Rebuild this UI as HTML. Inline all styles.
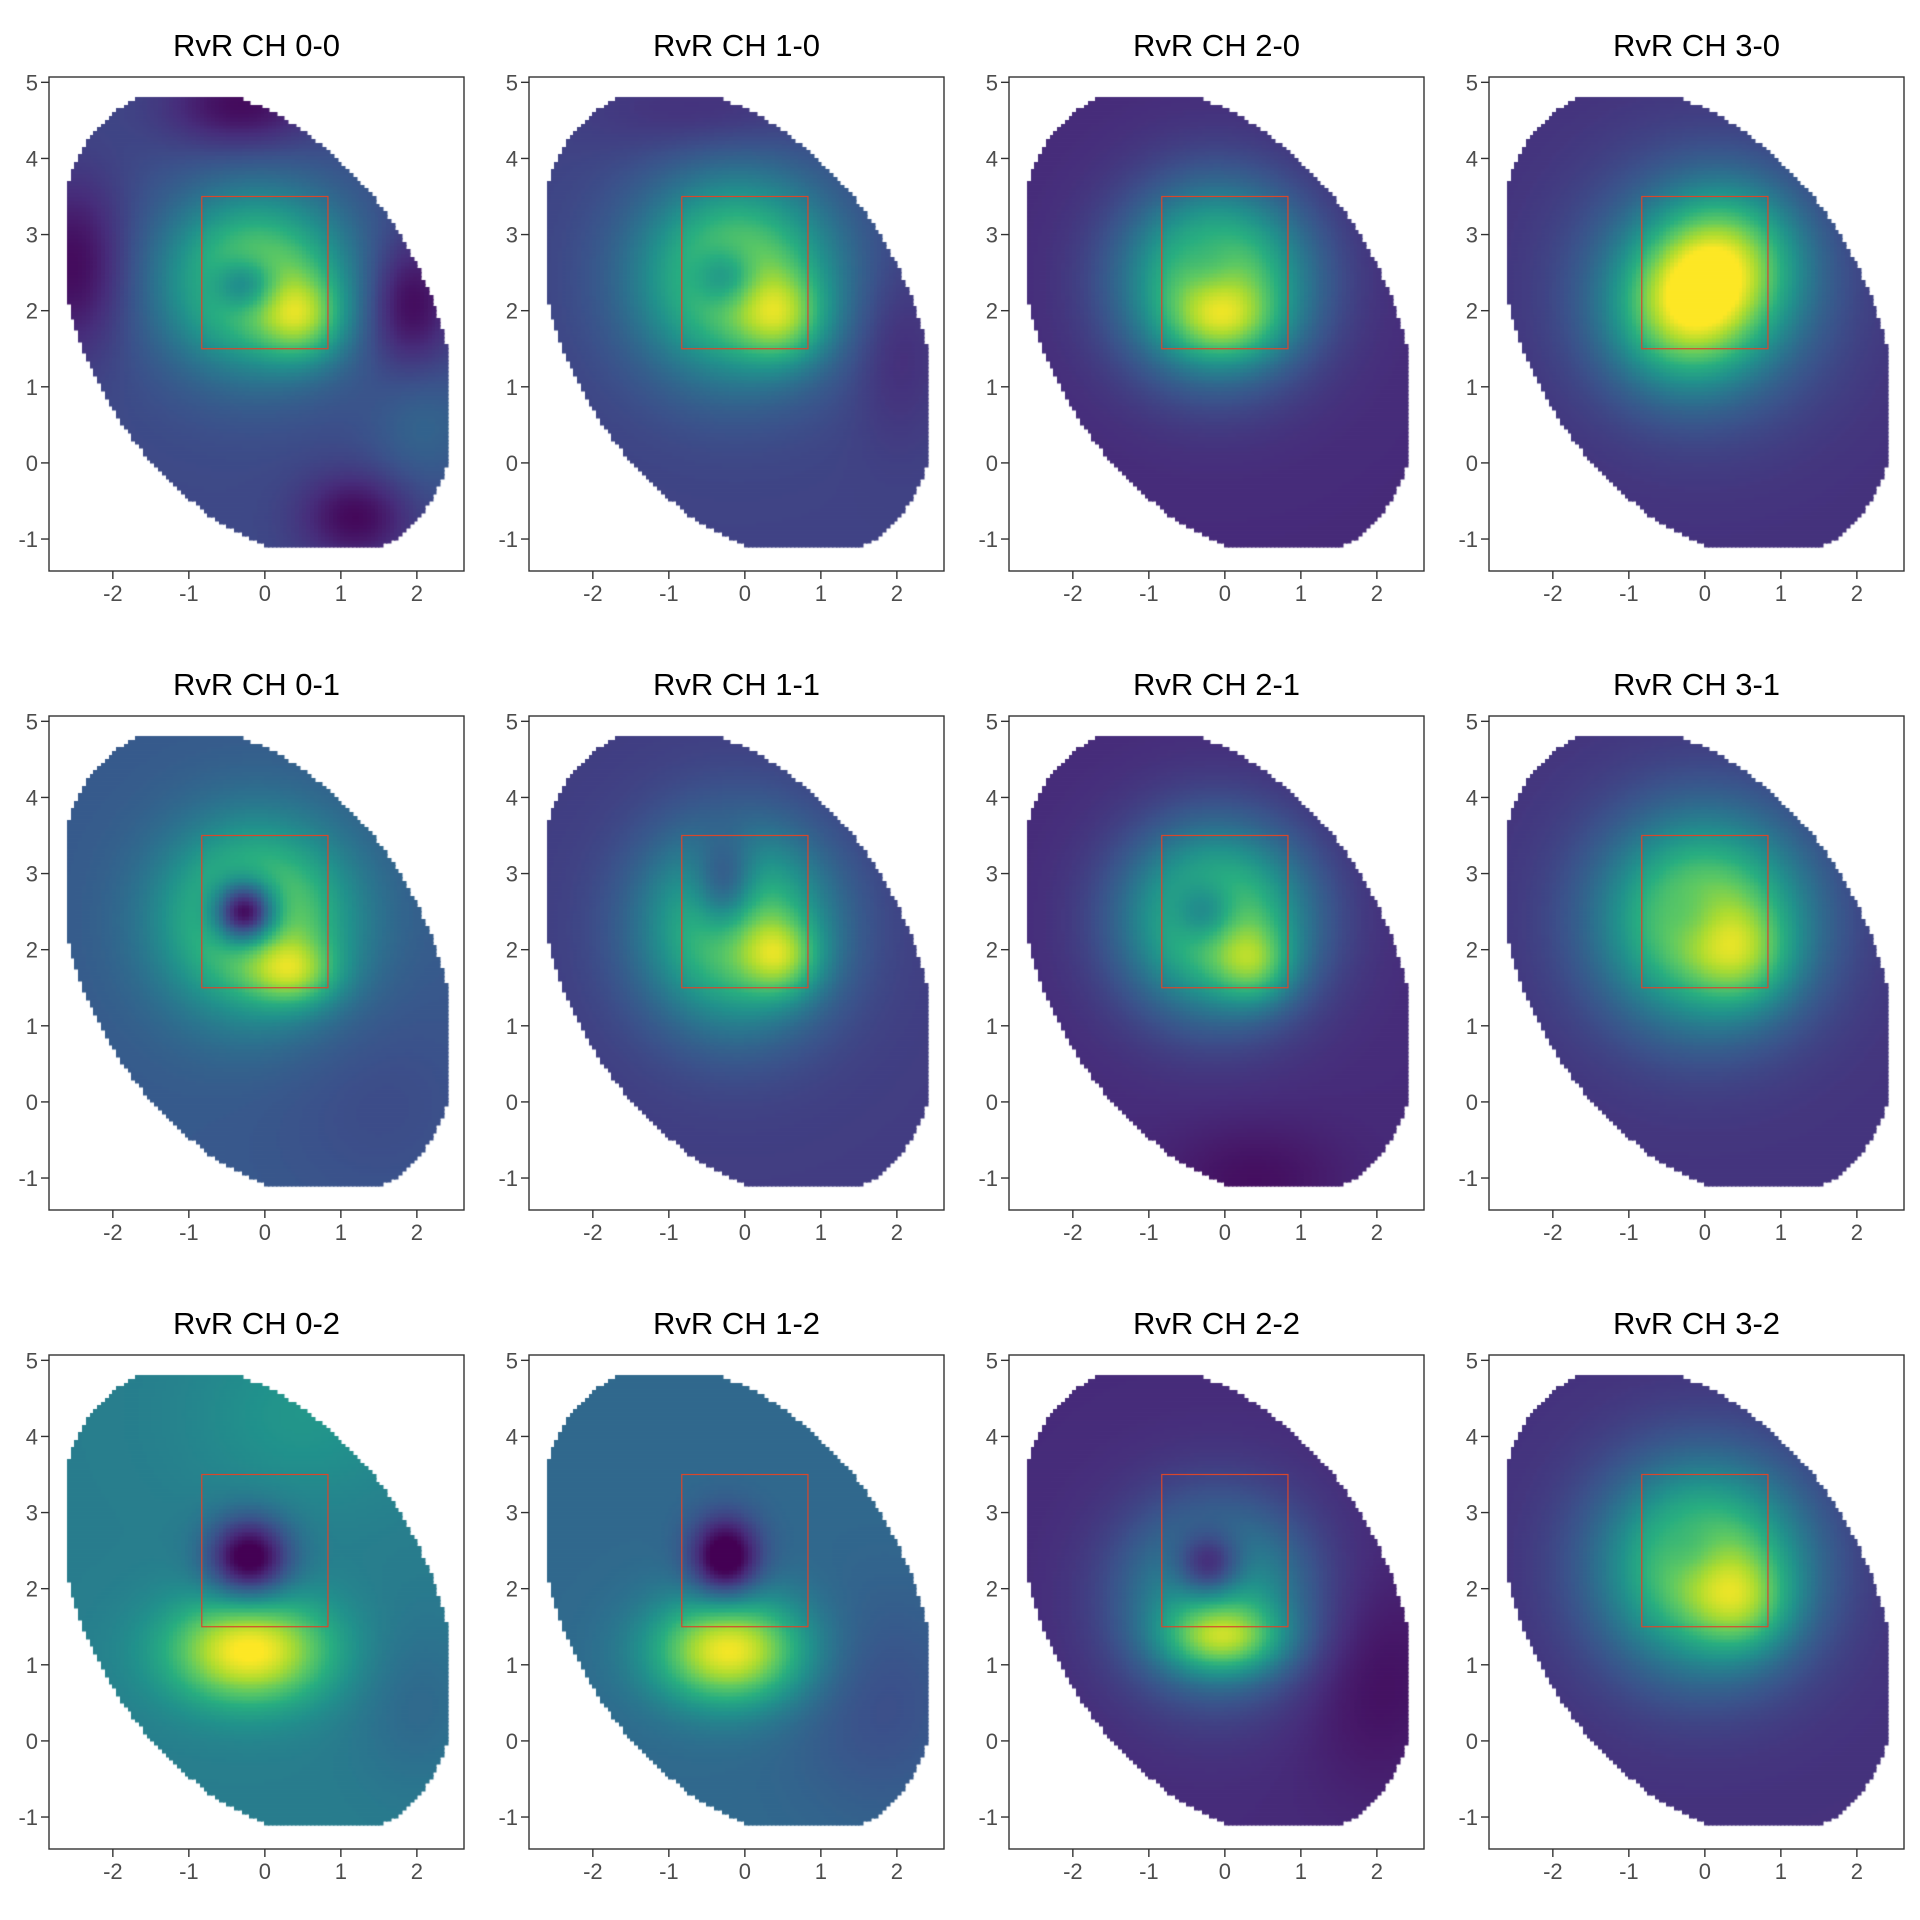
<!DOCTYPE html>
<html><head><meta charset="utf-8">
<style>
html,body{margin:0;padding:0;background:#fff;}
#wrap{position:relative;width:1920px;height:1920px;overflow:hidden;}
canvas,svg{position:absolute;left:0;top:0;}
</style></head>
<body>
<div id="wrap">
<canvas id="cv" width="1920" height="1920"></canvas>
<svg id="sv" width="1920" height="1920" xmlns="http://www.w3.org/2000/svg"></svg>
</div>
<script>
// ---- data ----
const panelTitles = ["RvR CH 0-0","RvR CH 1-0","RvR CH 2-0","RvR CH 3-0",
                     "RvR CH 0-1","RvR CH 1-1","RvR CH 2-1","RvR CH 3-1",
                     "RvR CH 0-2","RvR CH 1-2","RvR CH 2-2","RvR CH 3-2"];
const xTicks = [-2,-1,0,1,2];
const yTicks = [-1,0,1,2,3,4,5];
const roiBox = [-0.83,1.5,0.83,3.5]; // xmin,ymin,xmax,ymax
const baseLevels = [0.22,0.2,0.12,0.14, 0.28,0.18,0.12,0.15, 0.42,0.34,0.12,0.14];
// gaussian components per panel: [cx, cy, sx, sy, amplitude]
const comps00 = [[-0.1,2.4,0.85,0.8,0.62],[-0.25,2.35,0.3,0.25,-0.35],[0.5,1.9,0.38,0.38,0.32],[-0.3,4.7,0.7,0.4,-0.2],[-2.5,2.6,0.5,0.8,-0.2],[1.9,2.1,0.4,0.6,-0.22],[1.2,-0.7,0.5,0.4,-0.2],[2.1,0.5,0.5,0.6,0.1]];
const comps10 = [[-0.1,2.45,0.9,0.9,0.65],[-0.25,2.45,0.3,0.28,-0.3],[0.5,1.9,0.4,0.4,0.3],[-0.5,4.6,1,0.4,-0.08],[2,1.5,0.4,0.8,-0.08]];
const comps20 = [[-0.1,2.4,0.85,0.85,0.72],[-0.2,2.6,0.3,0.3,-0.12],[0,1.85,0.5,0.35,0.25]];
const comps30 = [[-0.25,2.0,0.65,0.65,0.45],[0.3,2.7,0.65,0.65,0.4],[0,2.3,1.1,1.1,0.35]];
const comps01 = [[-0.1,2.4,0.85,0.85,0.62],[-0.25,2.5,0.3,0.3,-0.85],[0.4,1.7,0.4,0.3,0.3],[1.5,0,1,1,-0.05]];
const comps11 = [[-0.1,2.3,0.85,0.9,0.65],[-0.25,2.8,0.3,0.45,-0.38],[0.5,1.9,0.35,0.35,0.3]];
const comps21 = [[-0.1,2.4,0.85,0.85,0.7],[-0.25,2.5,0.3,0.3,-0.32],[0.4,1.8,0.35,0.35,0.28],[0.4,-1,0.8,0.5,-0.08]];
const comps31 = [[0,2.4,0.95,0.95,0.72],[-0.15,2.45,0.3,0.3,-0.12],[0.5,1.9,0.45,0.45,0.22]];
const comps02 = [[-0.2,1.2,0.75,0.5,0.6],[-0.2,2.4,0.38,0.38,-0.5],[0.5,4.3,1,0.8,0.1],[2,0.5,0.6,0.8,-0.08]];
const comps12 = [[-0.2,1.2,0.7,0.5,0.65],[-0.25,2.4,0.32,0.38,-0.45],[1.8,0.5,0.8,1,-0.1]];
const comps22 = [[-0.1,1.9,0.85,0.85,0.5],[-0.2,2.3,0.32,0.32,-0.42],[0,1.35,0.55,0.32,0.4],[2.0,0.8,0.7,1,-0.08]];
const comps32 = [[0,2.3,0.95,0.95,0.7],[-0.15,2.5,0.3,0.3,-0.12],[0.5,1.8,0.45,0.45,0.25]];
const panelComps = [comps00,comps10,comps20,comps30,comps01,comps11,comps21,comps31,comps02,comps12,comps22,comps32];
// sampling region (ellipse): cx, cy, semi-major, semi-minor, angle(deg); clipped to bounds
const region = [-0.1,1.83,3.35,2.2,-58];
const regionBounds = [-2.62,-1.12,2.42,4.78];

// ---- layout ----
const PL=49, PT=77, PW=415, PH=494, DX=480, DY=639;
const XMIN=-2.84, XMAX=2.62, YMAX=5.07, YMIN=-1.42;
const STEP=0.05;
const vir=["#440154","#472d7b","#3b528b","#2c728e","#21918c","#28ae80","#5ec962","#addc30","#fde725"].map(h=>[parseInt(h.slice(1,3),16),parseInt(h.slice(3,5),16),parseInt(h.slice(5,7),16)]);
function viridis(t){t=Math.max(0,Math.min(1,t));const s=t*8,i=Math.min(7,Math.floor(s)),f=s-i;const a=vir[i],b=vir[i+1];
 return `rgb(${Math.round(a[0]+(b[0]-a[0])*f)},${Math.round(a[1]+(b[1]-a[1])*f)},${Math.round(a[2]+(b[2]-a[2])*f)})`;}
const ctx=document.getElementById('cv').getContext('2d');
const sv=document.getElementById('sv');
const NS="http://www.w3.org/2000/svg";
function mk(tag,attrs,parent){const e=document.createElementNS(NS,tag);for(const k in attrs)e.setAttribute(k,attrs[k]);parent.appendChild(e);return e;}
function inRegion(x,y){
 if(x<regionBounds[0]||x>regionBounds[2]||y<regionBounds[1]||y>regionBounds[3])return false;
 const a=region[4]*Math.PI/180;const dx=x-region[0],dy=y-region[1];
 const u=dx*Math.cos(a)+dy*Math.sin(a),v=-dx*Math.sin(a)+dy*Math.cos(a);return (u*u)/(region[2]*region[2])+(v*v)/(region[3]*region[3])<=1;}

panelTitles.forEach((title,p)=>{
 const c=p%4,r=Math.floor(p/4);
 const L=PL+c*DX, T=PT+r*DY;
 const xs=v=>L+(v-XMIN)/(XMAX-XMIN)*PW;
 const ys=v=>T+(YMAX-v)/(YMAX-YMIN)*PH;
 const g=mk('g',{},sv);
 
 
 const comps=panelComps[p], base=baseLevels[p];
 for(let x=-2.7;x<=2.5;x+=STEP){for(let y=-1.2;y<=4.85;y+=STEP){
  const cx=x+STEP/2, cy=y+STEP/2; if(!inRegion(cx,cy))continue;
  let v=base; for(const k of comps){const dx=(cx-k[0])/k[2],dy=(cy-k[1])/k[3];v+=k[4]*Math.exp(-0.5*(dx*dx+dy*dy));}
  ctx.fillStyle=viridis(v);
  const x0=xs(x),x1=xs(x+STEP),y0=ys(y+STEP),y1=ys(y);
  ctx.fillRect(Math.floor(x0),Math.floor(y0),Math.ceil(x1)-Math.floor(x0)+0.5,Math.ceil(y1)-Math.floor(y0)+0.5);
 }}
 const rb=mk('rect',{x:xs(roiBox[0]),y:ys(roiBox[3]),width:xs(roiBox[2])-xs(roiBox[0]),height:ys(roiBox[1])-ys(roiBox[3]),fill:'none',stroke:'#d9472b','stroke-width':1.2},g);
 
 
 const fr=mk('rect',{x:L,y:T,width:PW,height:PH,fill:'none',stroke:'#333','stroke-width':1.4},g);
 
 
 const tt=mk('text',{x:L+PW/2,y:T-21,'text-anchor':'middle','font-family':'Liberation Sans, sans-serif','font-size':31,fill:'#000'},g);
 tt.textContent=title;
 
 
 xTicks.forEach(t=>{
  mk('line',{x1:xs(t),x2:xs(t),y1:T+PH,y2:T+PH+8,stroke:'#333','stroke-width':1.4},g);
  const lb=mk('text',{x:xs(t),y:T+PH+30,'text-anchor':'middle','font-family':'Liberation Sans, sans-serif','font-size':22,fill:'#4d4d4d'},g);
  lb.textContent=t;
  
  
 });
 yTicks.forEach(t=>{
  mk('line',{x1:L-8,x2:L,y1:ys(t),y2:ys(t),stroke:'#333','stroke-width':1.4},g);
  const lb=mk('text',{x:L-11,y:ys(t)+8,'text-anchor':'end','font-family':'Liberation Sans, sans-serif','font-size':22,fill:'#4d4d4d'},g);
  lb.textContent=t;
  
  
 });
});
</script>
</body></html>
